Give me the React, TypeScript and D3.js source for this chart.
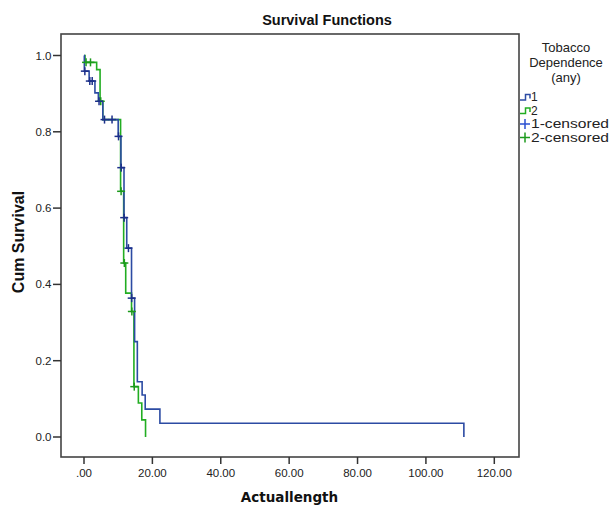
import React from 'react';
import * as d3 from 'd3';

// Axis ticks
const xTicks = [0, 20, 40, 60, 80, 100, 120];
const xTickLabels = ['.00', '20.00', '40.00', '60.00', '80.00', '100.00', '120.00'];
const yTicks = [0, 0.2, 0.4, 0.6, 0.8, 1.0];
const yTickLabels = ['0.0', '0.2', '0.4', '0.6', '0.8', '1.0'];

// Group 1 (blue) Kaplan-Meier steps
const g1Times = [0, 0.1, 1.5, 3.2, 4.2, 5.5, 10.0, 10.8, 11.7, 12.5, 13.9, 14.8, 15.6, 17.0, 17.9, 22.2, 111.1];
const g1Surv = [1, 0.959, 0.933, 0.902, 0.88, 0.832, 0.788, 0.706, 0.575, 0.495, 0.364, 0.25, 0.145, 0.11, 0.073, 0.036, 0];
const g1Censored = [0.25, 1.7, 2.4, 4.4, 6.0, 8.2, 10.1, 10.9, 11.75, 13.0, 13.95];

// Group 2 (green) Kaplan-Meier steps
const g2Times = [0, 0.3, 3.7, 4.7, 5.5, 10.7, 11.6, 12.2, 13.9, 14.6, 15.9, 16.9, 18.0];
const g2Surv = [1, 0.982, 0.963, 0.88, 0.832, 0.644, 0.456, 0.377, 0.329, 0.132, 0.089, 0.045, 0];
const g2Censored = [0.6, 1.9, 4.9, 10.85, 11.8, 14.0, 14.7];

const legendTitle = ['Tobacco', 'Dependence', '(any)'];
const legendItems = ['1', '2', '1-censored', '2-censored'];

const BLUE = '#2c4ba3';
const GREEN = '#22ad22';
const BLUE_C = '#1c2f8a';
const GREEN_C = '#1c9a1c';
const LEG_BLUE_C = '#2a4fd0';
const FONT = '"Liberation Sans", Arial, sans-serif';

function survAt(times: number[], surv: number[], t: number) {
  let s = 1;
  for (let i = 0; i < times.length; i++) if (times[i] <= t) s = surv[i];
  return s;
}

export default function App() {
  const x = d3.scaleLinear().domain([0, 120]).range([84, 494.3]);
  const y = d3.scaleLinear().domain([0, 1]).range([437, 55.5]);
  const line = d3
    .line<[number, number]>()
    .x((d) => x(d[0]))
    .y((d) => y(d[1]))
    .curve(d3.curveStepAfter);

  const g1Pts: [number, number][] = g1Times.map((t, i) => [t, g1Surv[i]]);
  const g2Pts: [number, number][] = g2Times.map((t, i) => [t, g2Surv[i]]);

  const cross = (cx: number, cy: number, color: string, key: string, r = 4) => (
    <g key={key} stroke={color} strokeWidth={1.5}>
      <line x1={cx - r} x2={cx + r} y1={cy} y2={cy} />
      <line x1={cx} x2={cx} y1={cy - r} y2={cy + r} />
    </g>
  );

  const left = 61, right = 519, top = 34, bottom = 457;
  const itemY = [97, 110.5, 124, 137.5];

  return (
    <svg width={613} height={505} style={{ position: 'absolute', left: 0, top: 0, background: '#fff' }} fontFamily={FONT}>
      <rect x={0} y={0} width={613} height={505} fill="#fff" />
      <text x={327} y={25} textAnchor="middle" fontSize={14.5} fontWeight="bold" fill="#111">Survival Functions</text>

      {/* curves */}
      <path d={line(g2Pts) || ''} fill="none" stroke={GREEN} strokeWidth={1.6} />
      <path d={line(g1Pts) || ''} fill="none" stroke={BLUE} strokeWidth={1.6} />
      {g2Censored.map((t, i) => cross(x(t), y(survAt(g2Times, g2Surv, t)), GREEN_C, 'c2' + i))}
      {g1Censored.map((t, i) => cross(x(t), y(survAt(g1Times, g1Surv, t)), BLUE_C, 'c1' + i))}

      {/* frame */}
      <rect x={left} y={top} width={right - left} height={bottom - top} fill="none" stroke="#444" strokeWidth={1.6} />

      {/* x axis */}
      {xTicks.map((t, i) => (
        <g key={'x' + i}>
          <line x1={x(t)} x2={x(t)} y1={bottom} y2={bottom + 7} stroke="#333" strokeWidth={1.5} />
          <text x={x(t)} y={476.5} textAnchor="middle" fontSize={11.5} fill="#222">{xTickLabels[i]}</text>
        </g>
      ))}
      {/* y axis */}
      {yTicks.map((t, i) => (
        <g key={'y' + i}>
          <line x1={left - 8} x2={left} y1={y(t)} y2={y(t)} stroke="#333" strokeWidth={1.5} />
          <text x={51.5} y={y(t) + 4} textAnchor="end" fontSize={11.5} fill="#222">{yTickLabels[i]}</text>
        </g>
      ))}

      <text x={289.5} y={502} textAnchor="middle" fontSize={13.5} fontWeight="bold" fontFamily='"DejaVu Sans", Verdana, sans-serif' fill="#111">Actuallength</text>
      <text transform="translate(24,242) rotate(-90)" textAnchor="middle" fontSize={16} fontWeight="bold" fill="#111">Cum Survival</text>

      {/* legend */}
      {legendTitle.map((s, i) => (
        <text key={'lt' + i} x={566} y={52 + i * 15} textAnchor="middle" fontSize={13} fill="#222">{s}</text>
      ))}
      <path d={`M520,${itemY[0] + 3} H525.5 V${itemY[0] - 2.5} H530 V${itemY[0] + 1.5}`} fill="none" stroke={BLUE} strokeWidth={1.5} />
      <path d={`M520,${itemY[1] + 3} H525.5 V${itemY[1] - 2.5} H530 V${itemY[1] + 1.5}`} fill="none" stroke={GREEN} strokeWidth={1.5} />
      {cross(525, itemY[2], LEG_BLUE_C, 'lc1', 5)}
      {cross(525, itemY[3], GREEN_C, 'lc2', 5)}
      {legendItems.map((s, i) => (
        <text
          key={'li' + i}
          x={531}
          y={itemY[i] + 4.3}
          fontSize={12}
          fill="#222"
          {...(i >= 2 ? { textLength: 78, lengthAdjust: 'spacingAndGlyphs' } : {})}
        >
          {s}
        </text>
      ))}
    </svg>
  );
}
